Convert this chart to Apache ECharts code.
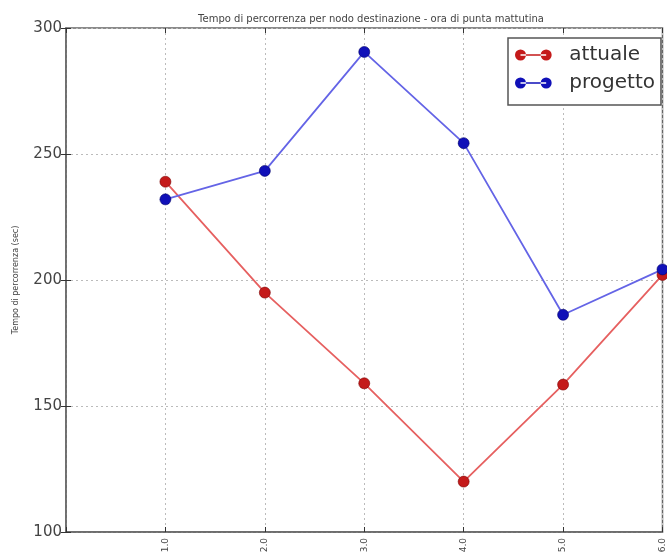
<!DOCTYPE html>
<html>
<head>
<meta charset="utf-8">
<script src="https://cdn.jsdelivr.net/npm/echarts@6/dist/echarts.min.js"></script>
<style>html,body{margin:0;padding:0;background:#fff;}#c{width:667px;height:558px;}</style>
</head>
<body>
<div id="c"></div>
<script>
const titleText = 'Tempo di percorrenza per nodo destinazione - ora di punta mattutina';
const yAxisName = 'Tempo di percorrenza (sec)';
const xValues = [1, 2, 3, 4, 5, 6];
const attuale = [239, 195, 159, 120, 158.5, 202];
const progetto = [232, 243.3, 290.5, 254.3, 186.2, 204.2];
const seriesNames = ['attuale', 'progetto'];

const legendIcon = 'path://M0,6a6,6 0 1,0 12,0a6,6 0 1,0 -12,0Z M28,6a6,6 0 1,0 12,0a6,6 0 1,0 -12,0Z M6,5.2h28v1.6h-28Z';

const chart = echarts.init(document.getElementById('c'), null, {renderer: 'canvas'});
const pair = (vals) => xValues.map((x, i) => [x, vals[i]]);
chart.setOption({
  animation: false,
  title: {
    text: titleText, left: 366, top: 9, textAlign: 'center',
    textStyle: {fontSize: 10, fontWeight: 'normal', color: '#444', fontFamily: 'DejaVu Sans'}
  },
  grid: {left: 66, top: 28, width: 600, height: 504, show: true, borderColor: '#666', borderWidth: 1.5},
  legend: {
    left: 508, top: 38, orient: 'vertical',
    data: seriesNames.map(n => ({name: n, icon: legendIcon})),
    itemWidth: 38, itemHeight: 11, itemGap: 8,
    itemStyle: {borderWidth: 0},
    padding: [7, 6, 12, 7],
    borderColor: '#555', borderWidth: 1.5, backgroundColor: '#fff',
    textStyle: {fontSize: 20, color: '#333', fontFamily: 'DejaVu Sans', padding: [0, 0, 0, 12]}
  },
  xAxis: [{
    type: 'value', min: 0, max: 6, interval: 1,
    axisLine: {show: true, lineStyle: {color: '#666', width: 1.5}},
    axisTick: {show: true, inside: true, length: 5, lineStyle: {color: '#333'}},
    axisLabel: {rotate: 90, fontSize: 9, color: '#444', fontFamily: 'DejaVu Sans', margin: 6,
      formatter: v => v === 0 ? '' : v.toFixed(1)},
    splitLine: {show: true, lineStyle: {type: [2, 3], color: '#bbb'}}
  }, {
    type: 'value', min: 0, max: 6, interval: 1, position: 'top',
    axisLine: {show: false},
    axisTick: {show: true, inside: true, length: 5, lineStyle: {color: '#333'}},
    axisLabel: {show: false}, splitLine: {show: false}
  }],
  yAxis: [{
    type: 'value', min: 100, max: 300, interval: 50,
    name: yAxisName, nameLocation: 'middle', nameGap: 46,
    nameTextStyle: {fontSize: 8, color: '#444', fontFamily: 'DejaVu Sans'},
    axisLine: {show: true, lineStyle: {color: '#666', width: 1.5}},
    axisTick: {show: true, inside: true, length: 5, lineStyle: {color: '#333'}},
    axisLabel: {fontSize: 15, color: '#444', fontFamily: 'DejaVu Sans', margin: 4},
    splitLine: {show: true, lineStyle: {type: [2, 3], color: '#bbb'}}
  }, {
    type: 'value', min: 100, max: 300, interval: 50, position: 'right',
    axisLine: {show: false},
    axisTick: {show: true, inside: true, length: 5, lineStyle: {color: '#333'}},
    axisLabel: {show: false}, splitLine: {show: false}
  }],
  series: [{
    name: seriesNames[0], type: 'line', data: pair(attuale),
    symbol: 'circle', symbolSize: 11,
    itemStyle: {color: '#c41a1a', borderColor: '#7a0000', borderWidth: 0.6},
    lineStyle: {color: '#e66060', width: 1.8}
  }, {
    name: seriesNames[1], type: 'line', data: pair(progetto),
    symbol: 'circle', symbolSize: 11,
    itemStyle: {color: '#1010b8', borderColor: '#00006a', borderWidth: 0.6},
    lineStyle: {color: '#6464e6', width: 1.8}
  }]
});
</script>
</body>
</html>
